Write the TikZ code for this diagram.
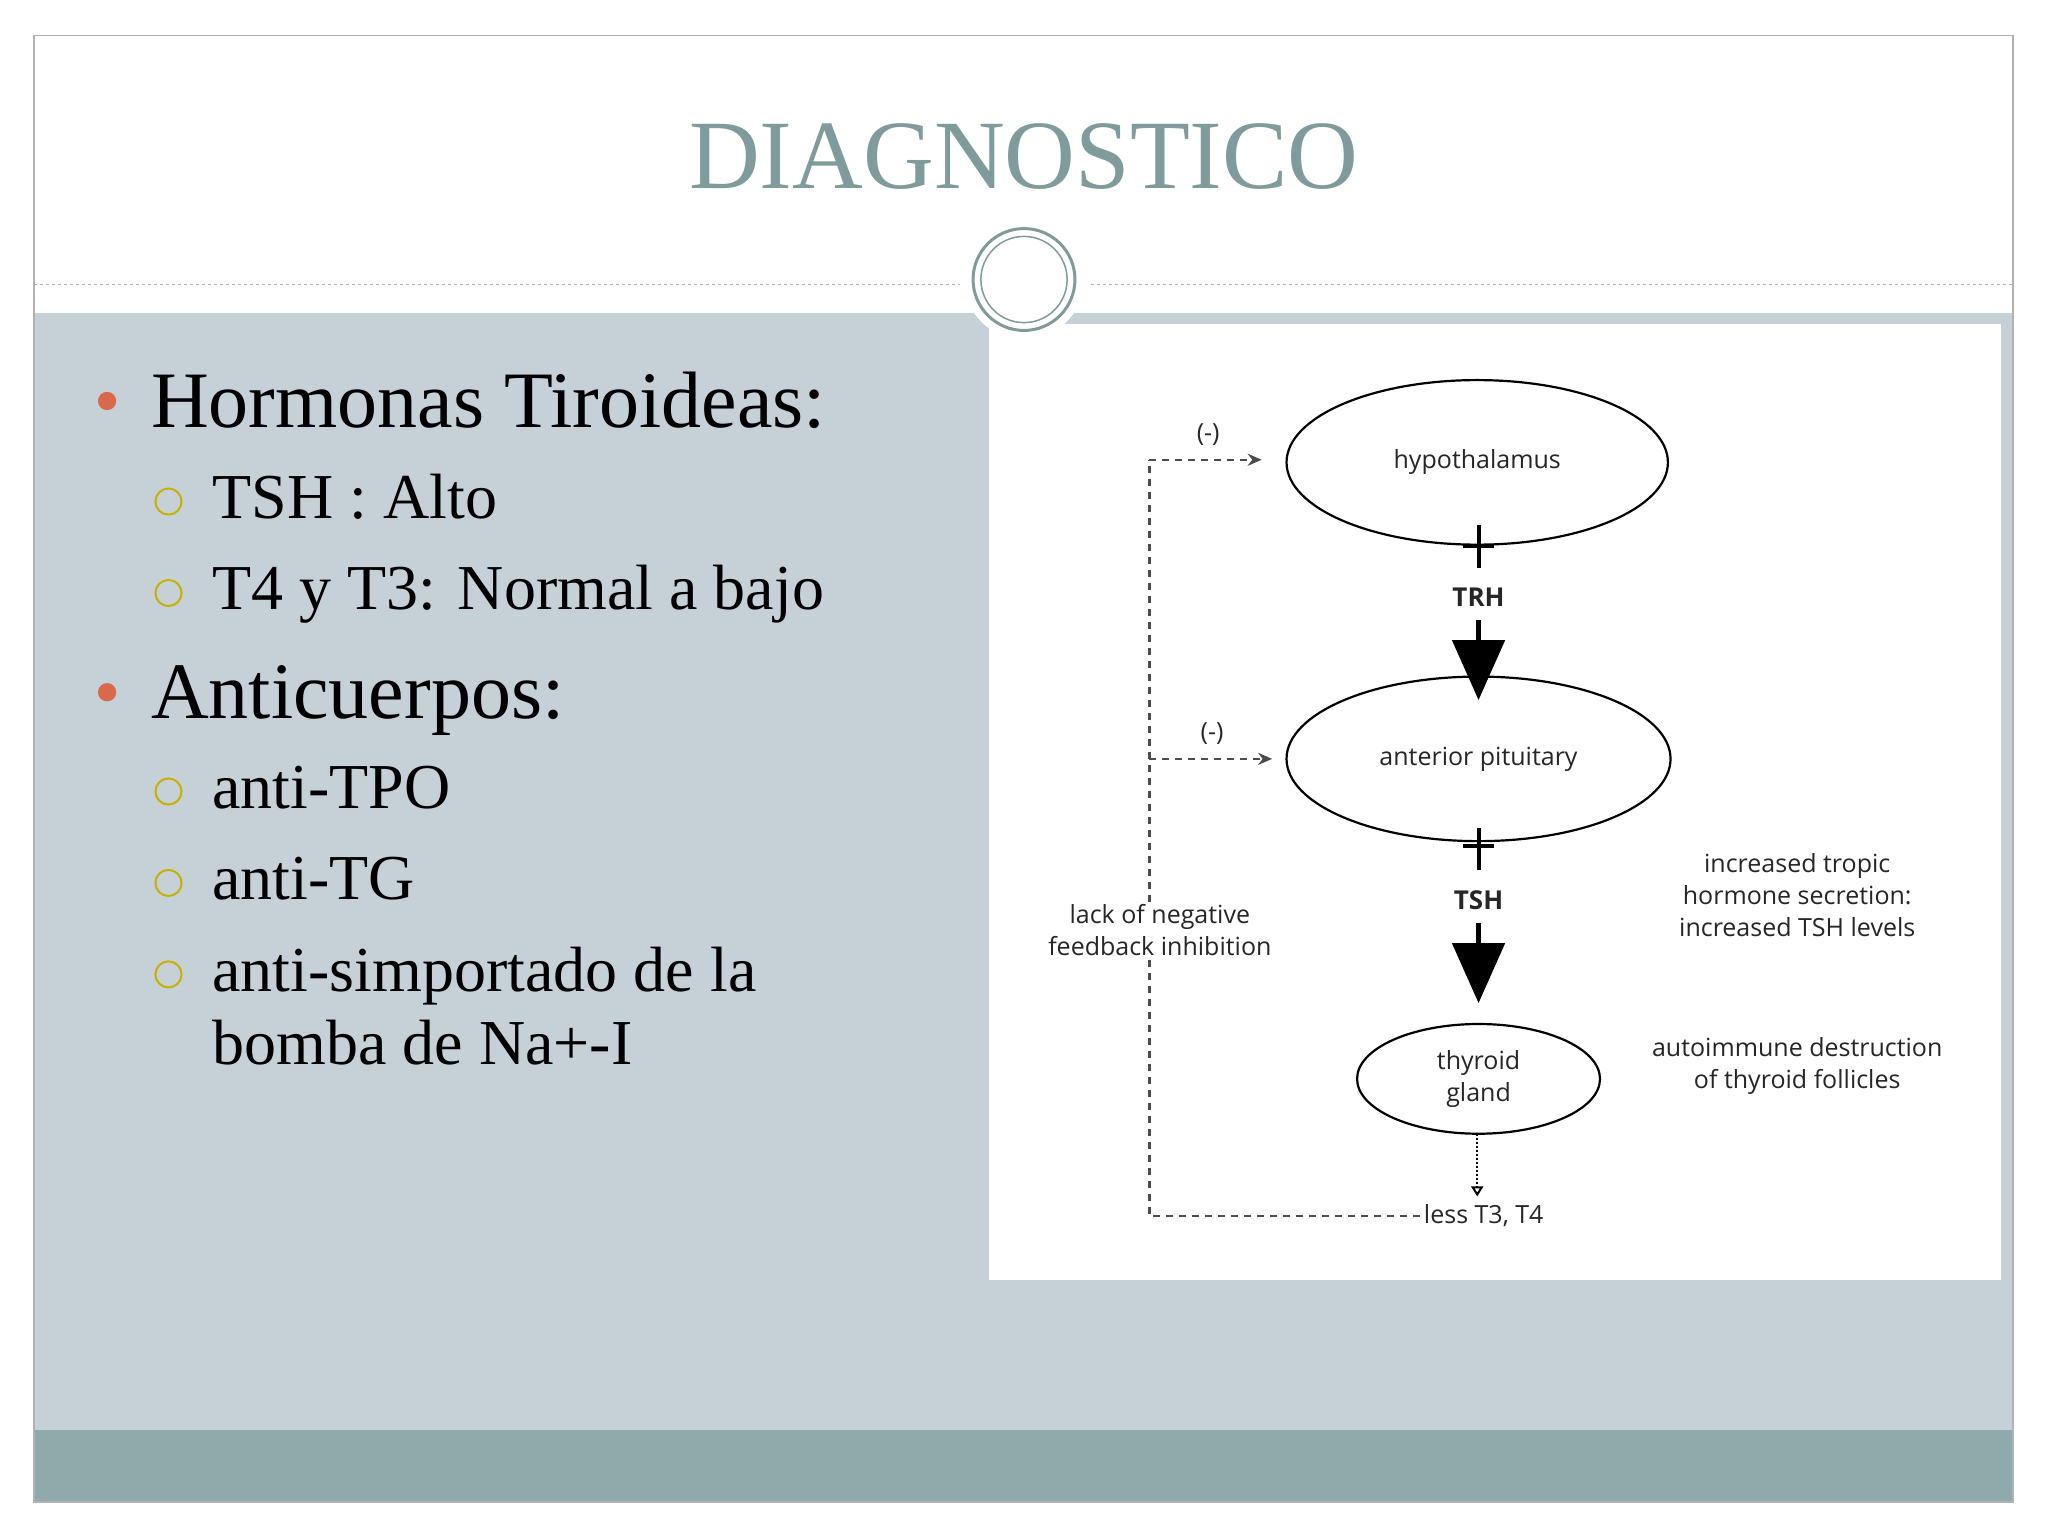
\documentclass[tikz,border=0pt]{standalone}
\usepackage{fontspec}
\setmainfont{Liberation Serif}
\newfontfamily\dsans{Open Sans}
\usetikzlibrary{arrows.meta}
\definecolor{panel}{HTML}{C5D1D7}
\definecolor{band}{HTML}{8EAAAB}
\definecolor{ttl}{HTML}{7F9B9B}
\definecolor{dotc}{HTML}{D9694A}
\definecolor{ringc}{HTML}{C9B000}
\tikzset{
 dlab/.style={font=\dsans\fontsize{25}{32}\selectfont,align=center,text=black!85},
 fb/.style={line width=2.5pt,black!70,dash pattern=on 7pt off 6pt},
 big/.style={line width=5pt,-{Triangle[width=52pt,length=60pt]}},
 l1/.style={anchor=base west,font=\fontsize{80}{90}\selectfont},
 l2/.style={anchor=base west,font=\fontsize{64}{74}\selectfont,align=left},
}
\begin{document}
\begin{tikzpicture}[x=1.306pt,y=-1.306pt]
\useasboundingbox (0,0) rectangle (1568,1176);
\fill[white] (0,0) rectangle (1568,1176);
\fill[panel] (26,240) rectangle (1541,1095);
\fill[band] (26,1095) rectangle (1541,1150);
\fill[white] (26,27) rectangle (1541,238);
\draw[gray!60,line width=1.5pt] (26,27) rectangle (1541,1150);
\draw[gray!60,dashed,line width=1pt] (26,218) -- (735,218);
\draw[gray!60,dashed,line width=1pt] (835,218) -- (1541,218);
\fill[white] (757,248) rectangle (1532,980);
\fill[white] (784,214) circle (46);
\draw[ttl,line width=3pt] (784,214) circle (39);
\draw[ttl,line width=1.5pt] (784,214) circle (33);
\node[text=ttl,font=\fontsize{98}{110}\selectfont] (title) at (784,120) {DIAGNOSTICO};
% bullets
\fill[dotc] (82,307) circle (7);
\node[l1] (h1) at (113,327) {Hormonas Tiroideas:};
\fill[dotc] (82,530) circle (7);
\node[l1] (h2) at (113,550) {Anticuerpos:};
\foreach \y/\t in {397/{TSH : Alto},467/{T4 y T3: Normal a bajo},619/{anti-TPO},689/{anti-TG},759/{anti-simportado de la}}{
 \draw[ringc,line width=2pt] (129,\y-13) circle (10);
 \node[l2] at (160,\y) {\t};
}
\node[l2] at (160,815) {bomba de Na+-I};
% diagram
\draw[line width=2.2pt] (1131,354) ellipse [x radius=146,y radius=63];
\draw[line width=2.2pt] (1132,581) ellipse [x radius=147,y radius=63];
\draw[line width=2.2pt] (1132,826) ellipse [x radius=93,y radius=42];
\node[dlab] (hyl) at (1131,354) {hypothalamus};
\node[dlab] (apl) at (1132,581) {anterior pituitary};
\node[dlab] (thl) at (1132,826) {thyroid\\gland};
\node[dlab,font=\dsans\bfseries\fontsize{26}{30}\selectfont] (trh) at (1132,457) {TRH};
\node[dlab,font=\dsans\bfseries\fontsize{26}{30}\selectfont] (tsh) at (1132,689) {TSH};
\draw[line width=4pt] (1132,402) -- (1132,435);
\draw[line width=4pt] (1120,418) -- (1144,418);
\draw[big] (1132,475) -- (1132,536);
\draw[line width=4pt] (1132,634) -- (1132,666);
\draw[line width=4pt] (1120,648) -- (1144,648);
\draw[big] (1132,707) -- (1132,768);
\draw[dotted,line width=2pt,-{Triangle[open,width=12pt,length=10pt]}] (1131,868) -- (1131,916);
\node[dlab] (less) at (1136,931) {less T3, T4};
\coordinate (c1) at (880,352);
\coordinate (c2) at (880,581);
\coordinate (c3) at (880,931);
\draw[fb] (less.west) -- (c3) -- (c1);
\draw[fb,-{Stealth[length=14pt,width=12pt]}] (c1) -- (966,352);
\draw[fb,-{Stealth[length=14pt,width=12pt]}] (c2) -- (974,581);
\node[dlab] (m1) at (925,333) {(-)};
\node[dlab] (m2) at (928,562) {(-)};
\node[dlab,fill=white,inner sep=1pt] (lack) at (888,712) {lack of negative\\feedback inhibition};
\node[dlab] (inc) at (1376,685) {increased tropic\\hormone secretion:\\increased TSH levels};
\node[dlab] (auto) at (1376,816) {autoimmune destruction\\of thyroid follicles};
\end{tikzpicture}
\end{document}
